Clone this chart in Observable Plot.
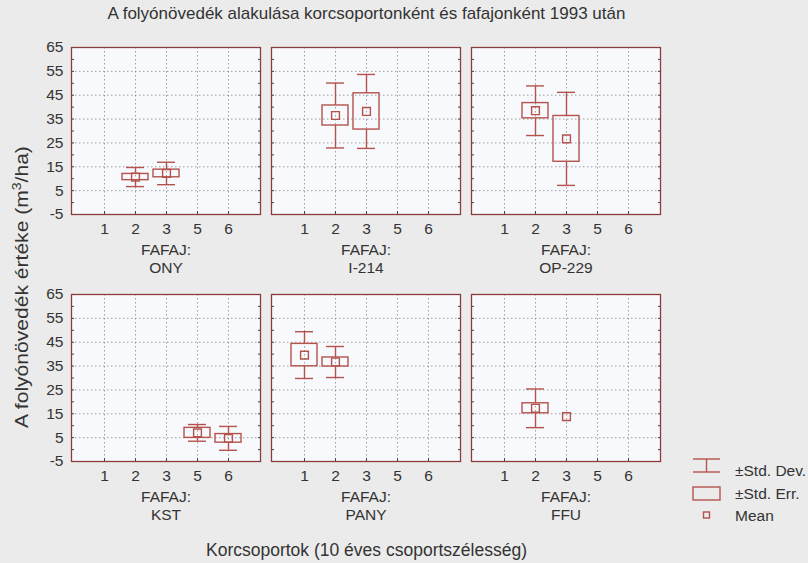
<!DOCTYPE html>
<html><head><meta charset="utf-8">
<script src="https://cdn.jsdelivr.net/npm/d3@7"></script>
<script src="https://cdn.jsdelivr.net/npm/@observablehq/plot@0.6"></script>
<style>
body{margin:0;background:#ebebeb;}
#wrap{position:relative;width:808px;height:563px;font-family:"Liberation Sans",Arial,sans-serif;color:#333;overflow:hidden;}
#chart{position:absolute;left:0;top:0;}
#title{position:absolute;left:0;width:733px;top:4px;text-align:center;font-size:17px;}
#ytitle{position:absolute;left:21px;top:287px;transform:translate(-50%,-50%) rotate(-90deg) scaleX(1.17);white-space:nowrap;font-size:18px;}
#xtitle{position:absolute;left:0;width:733px;top:540px;text-align:center;font-size:17.5px;}
#legend{position:absolute;left:686px;top:450px;}
</style></head><body>
<div id="wrap">
<div id="chart"></div>
<div id="title">A folyónövedék alakulása korcsoportonként és fafajonként 1993 után</div>
<div id="ytitle">A folyónövedék értéke (m<sup style="font-size:12px">3</sup>/ha)</div>
<div id="xtitle">Korcsoportok (10 éves csoportszélesség)</div>
<svg id="legend" width="122" height="80" font-family="Liberation Sans, Arial, sans-serif" font-size="15.5" fill="#333">
  <g stroke="#b4534d" stroke-width="1.4" fill="none">
    <line x1="7" x2="34" y1="9" y2="9"/><line x1="7" x2="34" y1="22" y2="22"/><line x1="20.5" x2="20.5" y1="9" y2="22"/>
    <rect x="7" y="37" width="27" height="13"/>
    <rect x="17.5" y="62" width="6" height="6"/>
  </g>
  <text x="49" y="26">±Std. Dev.</text>
  <text x="49" y="49">±Std. Err.</text>
  <text x="49" y="71">Mean</text>
</svg>
</div>
<script>
// Panels (FAFAJ) in reading order
const species = ["ONY", "I-214", "OP-229", "KST", "PANY", "FFU"];
// Age classes (Korcsoportok)
const ageClasses = ["1", "2", "3", "5", "6"];
const yTicks = [-5, 5, 15, 25, 35, 45, 55, 65];

// Observations
const obsSpecies = ["ONY","ONY","I-214","I-214","OP-229","OP-229","KST","KST","PANY","PANY","FFU","FFU"];
const obsAge     = ["2","3","2","3","2","3","5","6","1","2","2","3"];
const means      = [10.7, 12.2, 36.5, 38.2, 38.5, 26.7, 7.0, 4.7, 39.6, 36.7, 17.3, 13.8];
const stdErr     = [1.3, 1.6, 4.2, 7.6, 3.2, 9.6, 2.1, 1.8, 4.7, 1.9, 2.1, null];
const stdDev     = [4.0, 4.7, 13.6, 15.5, 10.4, 19.5, 3.5, 5.0, 9.8, 6.5, 8.1, null];

const rows = obsSpecies.map((s, i) => {
  const k = species.indexOf(s);
  return {species: s, age: obsAge[i], mean: means[i], se: stdErr[i], sd: stdDev[i], col: k % 3, row: Math.floor(k / 3)};
});
const panels = species.map((s, k) => ({species: s, col: k % 3, row: Math.floor(k / 3)}));
const withErr = rows.filter(d => d.se != null && d.sd != null);

const red = "#b4534d";
const sw = 1.4;
const fc = {fx: "col", fy: "row"};

const chart = Plot.plot({
  width: 808, height: 563,
  marginLeft: 71, marginRight: 148, marginTop: 47, marginBottom: 101,
  style: {background: "transparent", fontFamily: "Liberation Sans, Arial, sans-serif", fontSize: "15.5px", color: "#333"},
  fx: {domain: [0, 1, 2], padding: 0.055, axis: null},
  fy: {domain: [0, 1], padding: 0.323, axis: null},
  x: {type: "band", domain: ageClasses, paddingInner: 0.17, paddingOuter: 0.585},
  y: {domain: [-5, 65]},
  marks: [
    Plot.frame({fill: "#f8f9fc"}),
    Plot.gridY(yTicks.slice(1, -1), {stroke: "#777", strokeOpacity: 0.7, strokeDasharray: "1.5,2.5"}),
    Plot.gridX({stroke: "#777", strokeOpacity: 0.7, strokeDasharray: "1.5,2.5"}),
    Plot.axisY(d3.range(-5, 66, 5), {anchor: "left", facetAnchor: null, tickSize: 3, dx: 3, tickFormat: () => "", stroke: "#444", label: null}),
    Plot.axisY(d3.range(-5, 66, 5), {anchor: "right", facetAnchor: null, tickSize: 3, dx: -3, tickFormat: () => "", stroke: "#444", label: null}),
    Plot.axisX({anchor: "bottom", facetAnchor: null, tickSize: 3, dy: -3, tickFormat: () => "", stroke: "#444", label: null}),
    Plot.axisY(yTicks, {anchor: "left", facetAnchor: "left", tickSize: 0, tickPadding: 8, tickFormat: d => `${d}`, label: null, fontSize: 15.5, fill: "#333"}),
    Plot.axisX({anchor: "bottom", facetAnchor: null, tickSize: 0, tickPadding: 8, label: null, fontSize: 15.5, fill: "#333"}),
    Plot.frame({stroke: "#8a3c3c", strokeWidth: 1.3}),
    Plot.text(panels, {...fc, text: () => "FAFAJ:", frameAnchor: "bottom", dy: 40, fontSize: 15.5, fill: "#333"}),
    Plot.text(panels, {...fc, text: "species", frameAnchor: "bottom", dy: 58, fontSize: 15.5, fill: "#333"}),
    Plot.ruleX(withErr, {...fc, x: "age", y1: d => d.mean + d.se, y2: d => d.mean + d.sd, stroke: red, strokeWidth: sw}),
    Plot.ruleX(withErr, {...fc, x: "age", y1: d => d.mean - d.sd, y2: d => d.mean - d.se, stroke: red, strokeWidth: sw}),
    Plot.tickY(withErr, {...fc, x: "age", y: d => d.mean + d.sd, insetLeft: 4, insetRight: 4, stroke: red, strokeWidth: sw}),
    Plot.tickY(withErr, {...fc, x: "age", y: d => d.mean - d.sd, insetLeft: 4, insetRight: 4, stroke: red, strokeWidth: sw}),
    Plot.barY(withErr, {...fc, x: "age", y1: d => d.mean - d.se, y2: d => d.mean + d.se, fill: "none", stroke: red, strokeWidth: sw}),
    Plot.dot(rows, {...fc, x: "age", y: "mean", symbol: "square", r: 4.4, fill: "none", stroke: red, strokeWidth: sw})
  ]
});
document.getElementById("chart").append(chart);
</script>
</body></html>
